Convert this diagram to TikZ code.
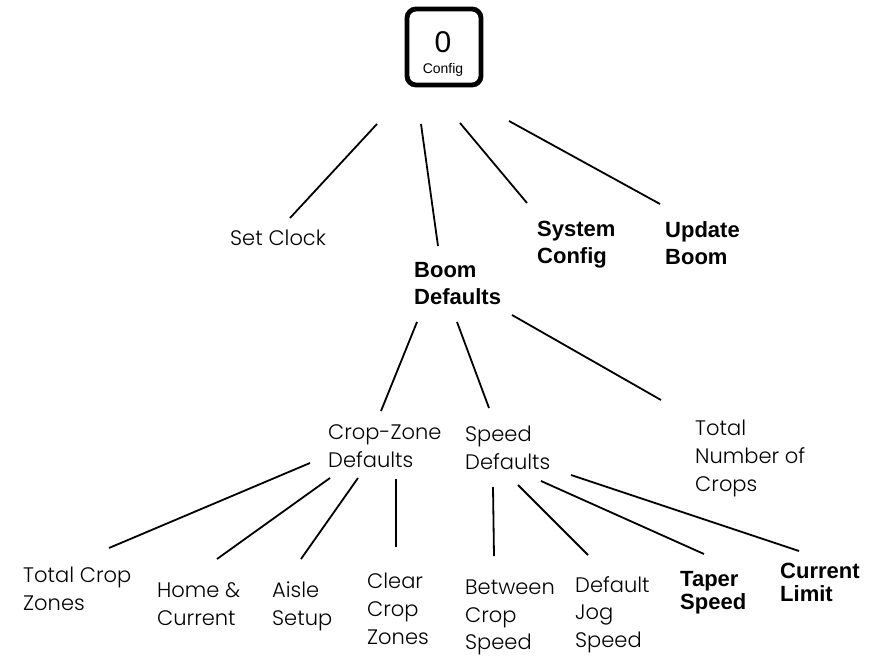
\documentclass[tikz,border=0pt]{standalone}
\usepackage{fontspec}
\setmainfont{Liberation Sans}
\newfontfamily\thinfont{Poppins Light}
\tikzset{
  lt/.style={anchor=north west, inner sep=0pt, align=left, font=\thinfont\fontsize{21}{28}\selectfont},
  bd/.style={anchor=north west, inner sep=0pt, align=left, font=\bfseries\fontsize{22}{27}\selectfont},
  bdb/.style={anchor=north west, inner sep=0pt, align=left, font=\bfseries\fontsize{22}{23}\selectfont},
  edge/.style={line width=1.8pt, black},
}
\begin{document}
\begin{tikzpicture}[x=1pt,y=-1pt]
\useasboundingbox (0,0) rectangle (884,656);
% root
\node[draw, line width=4.8pt, rounded corners=9pt, minimum width=74pt, minimum height=76pt, inner sep=0pt] (cfg) at (444,47) {};
\node[font=\fontsize{30}{30}\selectfont, inner sep=0pt] (zero) at (443,42) {0};
\node[font=\fontsize{14}{14}\selectfont, inner sep=0pt] (cfgt) at (443,70) {Config};
% labels
\node[lt] (clk) at (230,230) {Set Clock};
\node[bd] (sys) at (537,221) {System\\Config};
\node[bd] (upd) at (665,221) {Update\\Boom};
\node[bd] (boom) at (414,262) {Boom\\Defaults};
\node[lt] (cz) at (328,424) {Crop-Zone\\Defaults};
\node[lt] (sp) at (465,426) {Speed\\Defaults};
\node[lt] (tn) at (695,420) {Total\\Number of\\Crops};
\node[lt] (tcz) at (23,567) {Total Crop\\Zones};
\node[lt] (hc) at (157,582) {Home \&\\Current};
\node[lt] (as) at (272,582) {Aisle\\Setup};
\node[lt] (cc) at (367,573) {Clear\\Crop\\Zones};
\node[lt, font=\thinfont\fontsize{21}{27.5}\selectfont] (bc) at (465,580) {Between\\Crop\\Speed};
\node[lt, font=\thinfont\fontsize{21}{27.5}\selectfont] (dj) at (575,576) {Default\\Jog\\Speed};
\node[bdb] (ts) at (680,571) {Taper\\Speed};
\node[bdb] (cl) at (780,563) {Current\\Limit};
% connector ends
\coordinate (r1) at (377,124); \coordinate (clk-t) at (290,218);
\coordinate (r2) at (421,124); \coordinate (boom-t) at (438,246);
\coordinate (r3) at (460,123); \coordinate (sys-t) at (527,203);
\coordinate (r4) at (509,121); \coordinate (upd-t) at (660,204);
\coordinate (b1) at (417,322); \coordinate (cz-t) at (381,411);
\coordinate (b2) at (457,322); \coordinate (sp-t) at (489,408);
\coordinate (b3) at (512,315); \coordinate (tn-t) at (661,400);
\coordinate (c1) at (310,463); \coordinate (tcz-t) at (109,548);
\coordinate (c2) at (330,478); \coordinate (hc-t) at (217,559);
\coordinate (c3) at (358,478); \coordinate (as-t) at (301,559);
\coordinate (c4) at (396,479); \coordinate (cc-t) at (396,547);
\coordinate (s1) at (493,487); \coordinate (bc-t) at (494,556);
\coordinate (s2) at (518,485); \coordinate (dj-t) at (588,555);
\coordinate (s3) at (541,481); \coordinate (ts-t) at (704,554);
\coordinate (s4) at (571,475); \coordinate (cl-t) at (799,551);
\draw[edge] (r1) -- (clk-t);
\draw[edge] (r2) -- (boom-t);
\draw[edge] (r3) -- (sys-t);
\draw[edge] (r4) -- (upd-t);
\draw[edge] (b1) -- (cz-t);
\draw[edge] (b2) -- (sp-t);
\draw[edge] (b3) -- (tn-t);
\draw[edge] (c1) -- (tcz-t);
\draw[edge] (c2) -- (hc-t);
\draw[edge] (c3) -- (as-t);
\draw[edge] (c4) -- (cc-t);
\draw[edge] (s1) -- (bc-t);
\draw[edge] (s2) -- (dj-t);
\draw[edge] (s3) -- (ts-t);
\draw[edge] (s4) -- (cl-t);
\end{tikzpicture}
\end{document}
